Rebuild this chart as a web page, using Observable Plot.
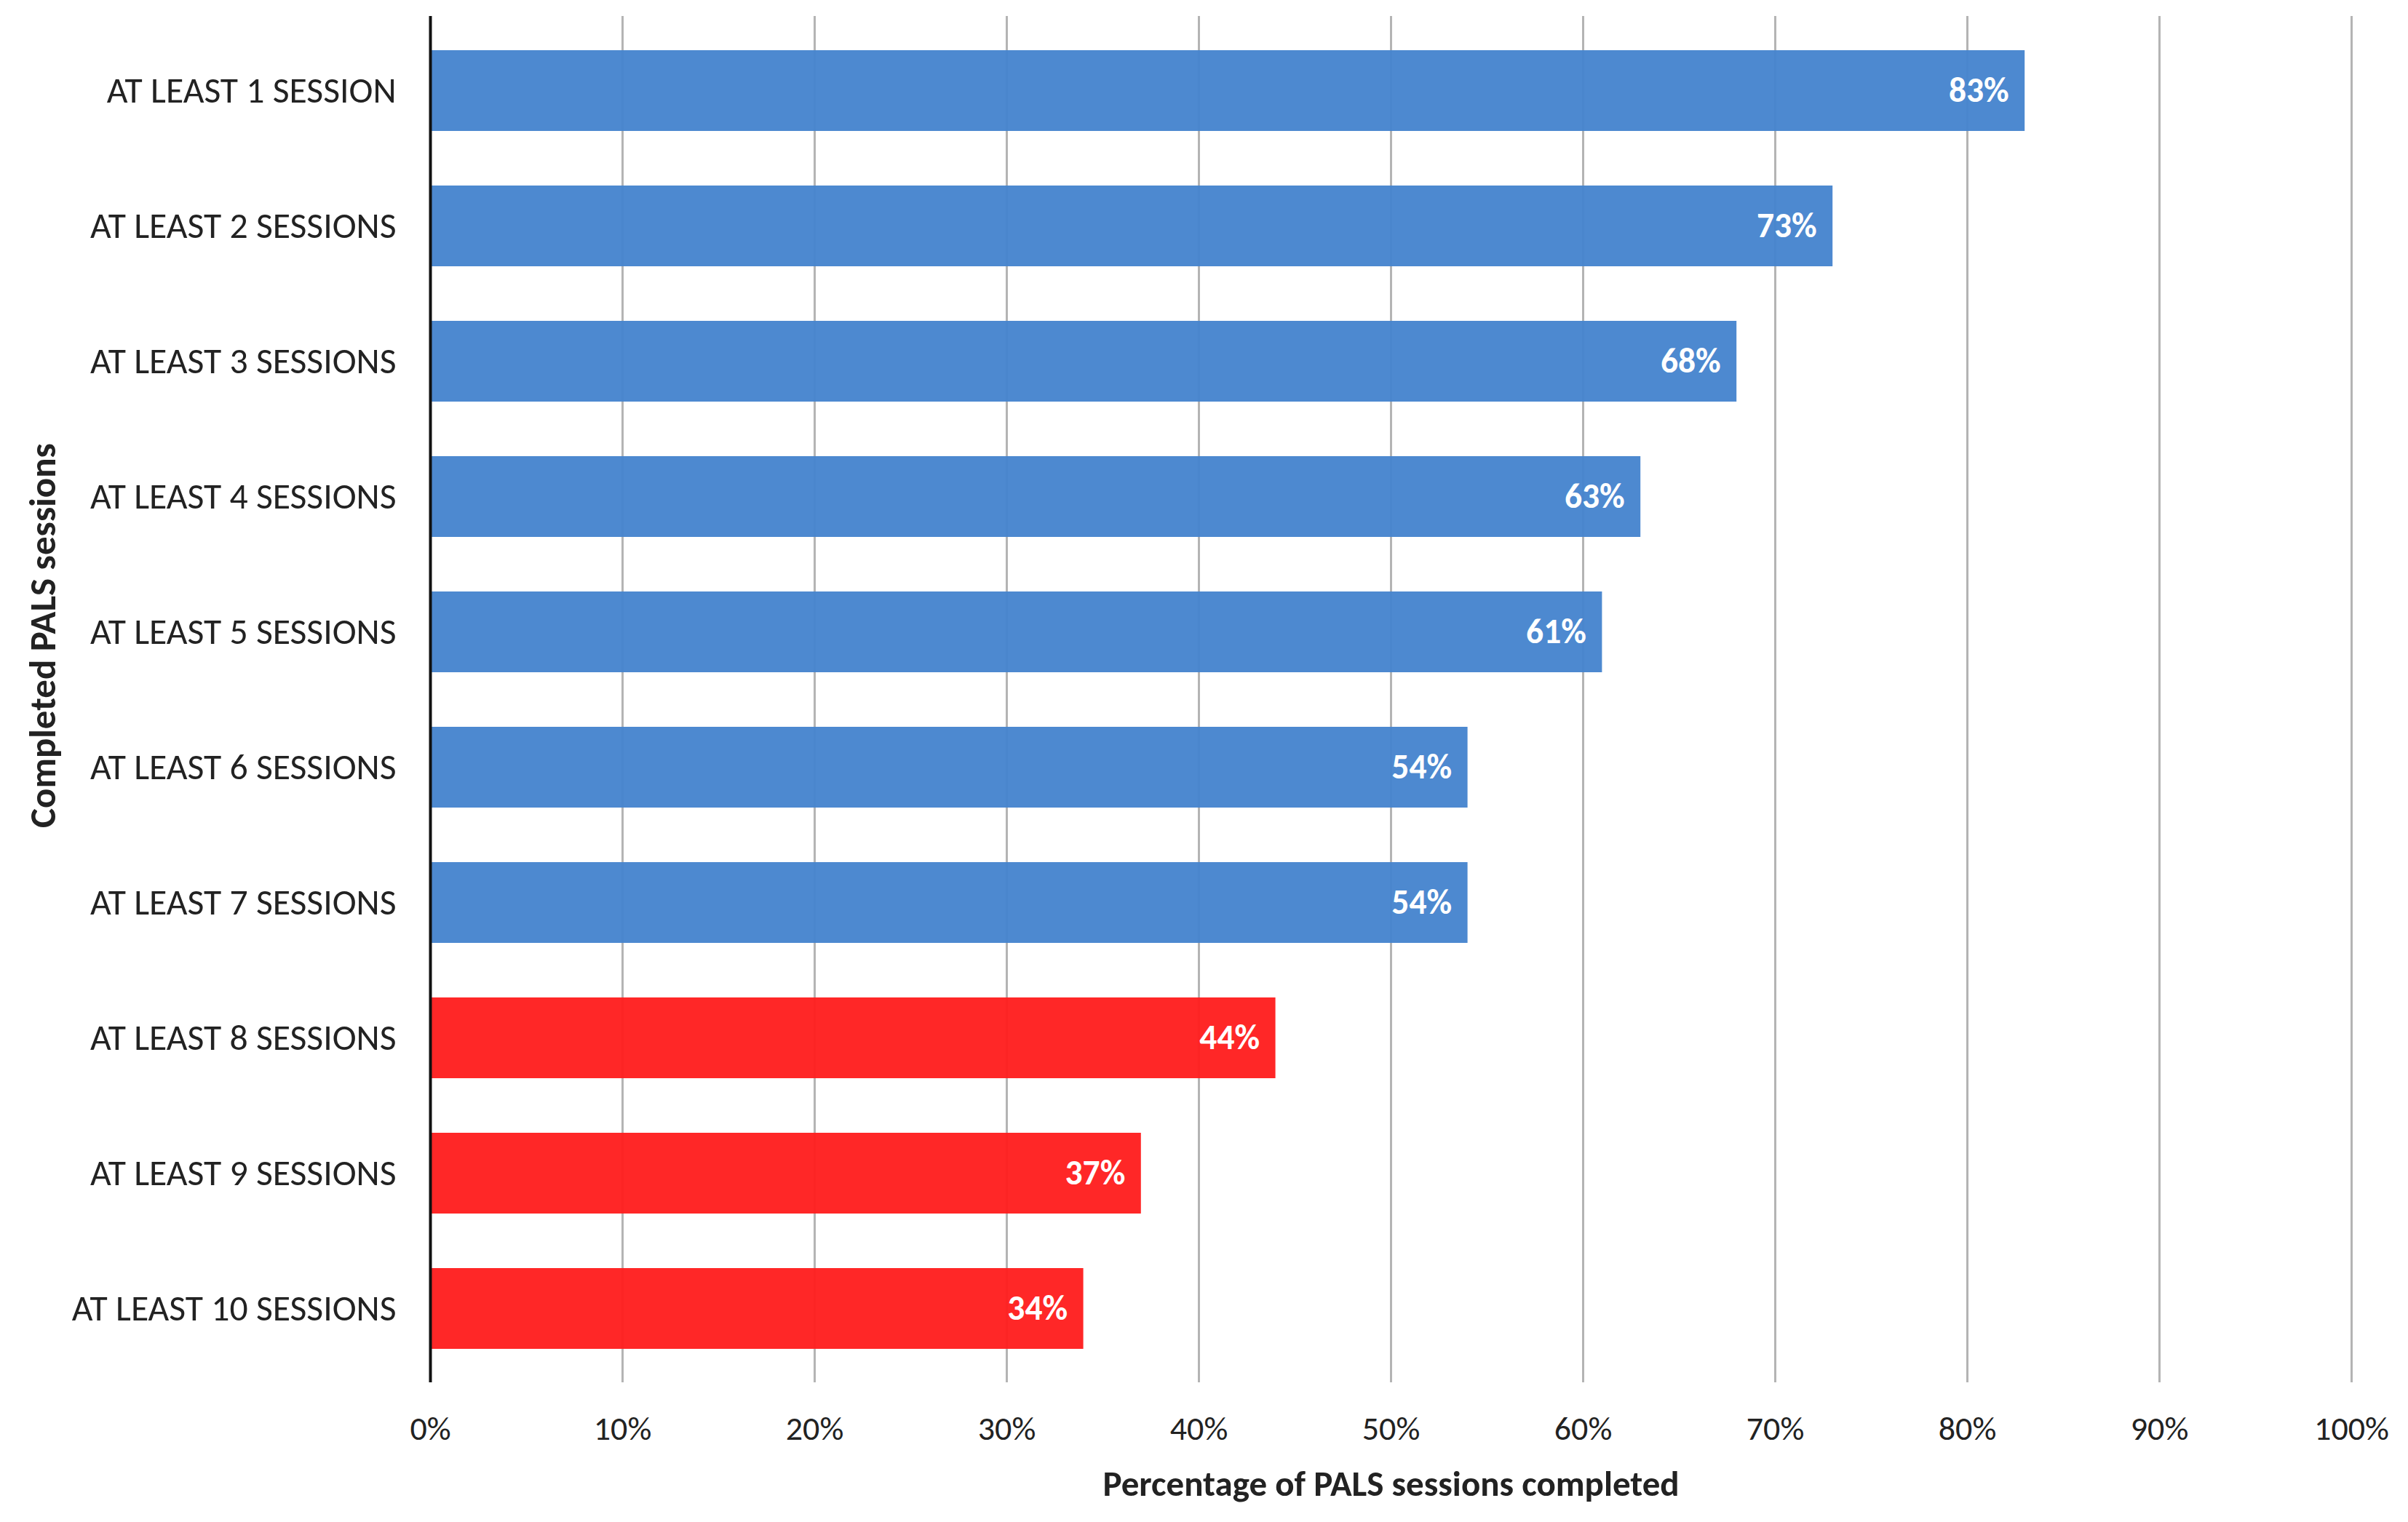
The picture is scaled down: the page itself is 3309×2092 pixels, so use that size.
<!DOCTYPE html>
<html>
<head>
<meta charset="utf-8">
<script src="https://cdn.jsdelivr.net/npm/d3@7"></script>
<script src="https://cdn.jsdelivr.net/npm/@observablehq/plot@0.6"></script>
<style>
  html, body { margin: 0; padding: 0; background: #fff; }
  svg { display: block; }
</style>
</head>
<body>
<div id="chart"></div>
<script>
const categories = [
  "AT LEAST 1 SESSION", "AT LEAST 2 SESSIONS", "AT LEAST 3 SESSIONS",
  "AT LEAST 4 SESSIONS", "AT LEAST 5 SESSIONS", "AT LEAST 6 SESSIONS",
  "AT LEAST 7 SESSIONS", "AT LEAST 8 SESSIONS", "AT LEAST 9 SESSIONS",
  "AT LEAST 10 SESSIONS"
];
const sessions = [1, 2, 3, 4, 5, 6, 7, 8, 9, 10];
const percentages = [83, 73, 68, 63, 61, 54, 54, 44, 37, 34];
const xTicks = [0, 10, 20, 30, 40, 50, 60, 70, 80, 90, 100];
const xTitle = "Percentage of PALS sessions completed";
const yTitle = "Completed PALS sessions";

const data = categories.map((c, i) => ({
  label: c,
  sessions: sessions[i],
  value: percentages[i],
  group: sessions[i] >= 8 ? "8+" : "1-7"
}));

const FONT = "Carlito, Calibri, Lato, sans-serif";

const chart = Plot.plot({
  width: 3309,
  height: 2092,
  marginLeft: 591,
  marginRight: 78,
  marginTop: 22,
  marginBottom: 192,
  style: { fontFamily: FONT, background: "#fff" },
  x: { domain: [0, 100], ticks: xTicks, tickFormat: d => d + "%" },
  y: { domain: categories, paddingInner: 0.404, paddingOuter: 0.2245 },
  color: { domain: ["1-7", "8+"], range: ["#4684ce", "#ff1e1e"] },
  marks: [
    Plot.ruleX(xTicks.filter(d => d > 0), { stroke: "#b4b4b4", strokeWidth: 3 }),
    Plot.barX(data, { x: "value", y: "label", fill: "group", fillOpacity: 0.96 }),
    Plot.text(data, {
      x: "value", y: "label", text: d => d.value + "%",
      textAnchor: "end", dx: -22, fill: "white", fontWeight: "bold", fontSize: 47.5
    }),
    Plot.ruleX([0], { stroke: "#111", strokeWidth: 4 }),
    Plot.axisX({
      ticks: xTicks, tickFormat: d => d + "%", tickSize: 0, tickPadding: 46,
      fontSize: 46, label: null, color: "#222"
    }),
    Plot.axisY({
      tickSize: 0, tickPadding: 47, fontSize: 49.7, label: null, color: "#222"
    }),
    Plot.text([xTitle], {
      frameAnchor: "bottom", dy: 155, text: d => d,
      fontWeight: "bold", fontSize: 49, fill: "#222"
    }),
    Plot.text([yTitle], {
      frameAnchor: "left", dx: -532, dy: -88, rotate: -90, text: d => d,
      textAnchor: "middle", fontWeight: "bold", fontSize: 51, fill: "#222"
    })
  ]
});

document.getElementById("chart").appendChild(chart);
</script>
</body>
</html>
